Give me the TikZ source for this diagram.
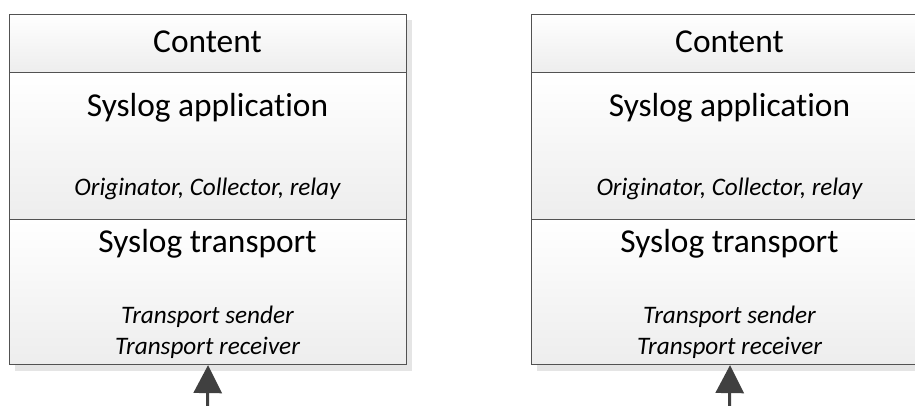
\documentclass[tikz,border=0pt]{standalone}
\usepackage{fontspec}
\setmainfont{Carlito}[Ligatures={NoCommon}]
\usetikzlibrary{arrows.meta}
\begin{document}
\begin{tikzpicture}[x=1pt,y=-1pt,
  layer/.style={draw=black!68, line width=1.1pt, top color=white, bottom color=black!7,
    rectangle, inner sep=0pt, anchor=north west, minimum width=397pt},
  title/.style={font=\fontsize{33.4}{40}\selectfont, anchor=base, inner sep=0pt},
  sub/.style={font=\fontsize{25.2}{30}\selectfont\itshape, anchor=base, inner sep=0pt},
  upar/.style={-{Triangle[length=28pt,width=28pt]}, line width=3pt, draw=black!75},
  shadowc/.style={fill=black!10}]
\useasboundingbox (0,0) rectangle (915,405);
\clip (0,0) rectangle (915,405);
\fill[white] (0,0) rectangle (915,405);
\foreach \s/\ox in {L/9,R/531}{
  \fill[shadowc] (\ox+6,20) rectangle (\ox+403,370.5);
  \node[layer, minimum height=58pt] (c\s) at (\ox,14) {};
  \node[layer, minimum height=147pt] (a\s) at (\ox,72) {};
  \node[layer, minimum height=145pt] (t\s) at (\ox,219) {};
  \node[title] (ct\s) at (\ox+198.5,52.3) {Content};
  \node[title] (at\s) at (\ox+198.5,116.5) {Syslog application};
  \node[sub] (as\s) at (\ox+198.5,195) {Originator, Collector, relay};
  \node[title] (tt\s) at (\ox+198.5,252) {Syslog transport};
  \node[sub] (tsa\s) at (\ox+198.5,323.3) {Transport sender};
  \node[sub] (tsb\s) at (\ox+198.5,354) {Transport receiver};
  \coordinate (in\s) at (\ox+198.5,410);
  \draw[upar] (in\s) -- (t\s.south);
}
\end{tikzpicture}
\end{document}
